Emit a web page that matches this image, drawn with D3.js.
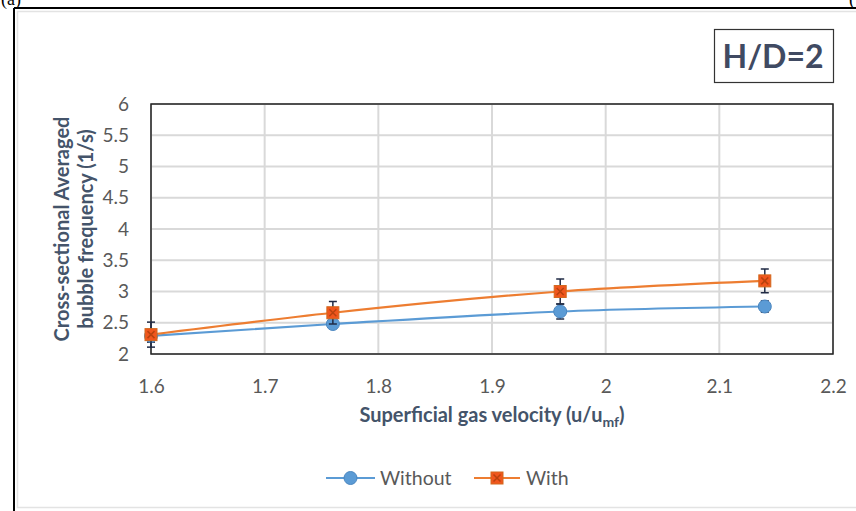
<!DOCTYPE html>
<html>
<head>
<meta charset="utf-8">
<script src="https://cdn.jsdelivr.net/npm/d3@7"></script>
<style>
  html, body { margin: 0; padding: 0; background: #fff; }
  svg { display: block; }
</style>
</head>
<body>
<svg id="chart" width="856" height="511"></svg>
<script>
// Superficial gas velocity (u/u_mf)
const velocity = [1.6, 1.76, 1.96, 2.14];
// Bubble frequency (1/s) without and with the insert
const withoutValues = [2.29, 2.48, 2.68, 2.76];
const withValues = [2.31, 2.66, 3.0, 3.17];
// Error bar half-widths
const withoutErrors = [0.1, 0.07, 0.12, 0.09];
const withErrors = [0.2, 0.18, 0.2, 0.19];
const xTicks = [1.6, 1.7, 1.8, 1.9, 2.0, 2.1, 2.2];
const yTicks = [2, 2.5, 3, 3.5, 4, 4.5, 5, 5.5, 6];
const seriesNames = ["Without", "With"];

const svg = d3.select("#chart");
const font = "Lato, 'Open Sans', sans-serif";
const tickColor = "#595959";
const titleColor = "#44546A";

const plot = { left: 151, right: 833, top: 104, bottom: 354 };
const x = d3.scaleLinear().domain([1.6, 2.2]).range([plot.left, plot.right]);
const y = d3.scaleLinear().domain([2, 6]).range([plot.bottom, plot.top]);

// Figure frame
svg.append("rect").attr("x", 17.5).attr("y", 11.5).attr("width", 860).attr("height", 496)
  .attr("fill", "none").attr("stroke", "#e3e3e3").attr("stroke-width", 1.5);
svg.append("line").attr("x1", 14).attr("x2", 856).attr("y1", 8).attr("y2", 8)
  .attr("stroke", "#000").attr("stroke-width", 2);
svg.append("line").attr("x1", 14).attr("x2", 14).attr("y1", 8).attr("y2", 511)
  .attr("stroke", "#000").attr("stroke-width", 2);
svg.append("text").attr("x", 1).attr("y", 5).text("(a)")
  .attr("font-family", "'Liberation Serif', serif").attr("font-size", 18).attr("fill", "#000");
svg.append("text").attr("x", 849).attr("y", 5).text("(")
  .attr("font-family", "'Liberation Serif', serif").attr("font-size", 18).attr("fill", "#000");

// Gridlines
const grid = svg.append("g");
grid.selectAll(".hg").data(yTicks).join("line")
  .attr("x1", plot.left).attr("x2", plot.right)
  .attr("y1", d => y(d)).attr("y2", d => y(d))
  .attr("stroke", "#d9d9d9").attr("stroke-width", 2);
grid.selectAll(".vg").data(xTicks).join("line")
  .attr("x1", d => x(d)).attr("x2", d => x(d))
  .attr("y1", plot.top).attr("y2", plot.bottom)
  .attr("stroke", "#d9d9d9").attr("stroke-width", 2);

// Plot border
svg.append("rect").attr("x", plot.left).attr("y", plot.top)
  .attr("width", plot.right - plot.left).attr("height", plot.bottom - plot.top)
  .attr("fill", "none").attr("stroke", "#222").attr("stroke-width", 1.5);

// Axes (labels only)
const xAxis = svg.append("g").attr("transform", `translate(0,${plot.bottom + 22})`)
  .call(d3.axisBottom(x).tickValues(xTicks).tickFormat(d3.format("~g")).tickSize(0));
xAxis.select(".domain").remove();
xAxis.selectAll("text").attr("font-family", font).attr("font-size", 19).attr("fill", tickColor);

const yAxis = svg.append("g").attr("transform", `translate(${plot.left - 19},0)`)
  .call(d3.axisLeft(y).tickValues(yTicks).tickFormat(d3.format("~g")).tickSize(0));
yAxis.select(".domain").remove();
yAxis.selectAll("text").attr("font-family", font).attr("font-size", 19).attr("fill", tickColor);

// Axis titles
const xTitle = svg.append("text").attr("x", 492).attr("y", 422).attr("text-anchor", "middle")
  .attr("font-family", font).attr("font-weight", "bold").attr("font-size", 20).attr("fill", titleColor);
xTitle.append("tspan").text("Superficial gas velocity (u/u");
xTitle.append("tspan").text("mf").attr("font-size", 14).attr("dy", 5);
xTitle.append("tspan").text(")").attr("dy", -5);

const yTitle = svg.append("text").attr("transform", "translate(69,229) rotate(-90)")
  .attr("text-anchor", "middle").attr("font-family", font).attr("font-weight", "bold")
  .attr("font-size", 20).attr("fill", titleColor);
yTitle.append("tspan").attr("x", 0).attr("dy", 0).text("Cross-sectional Averaged");
yTitle.append("tspan").attr("x", 0).attr("dy", 24).text("bubble frequency (1/s)");

// Series
const series = [
  { name: seriesNames[0], values: withoutValues, errors: withoutErrors, color: "#5B9BD5", marker: "circle" },
  { name: seriesNames[1], values: withValues, errors: withErrors, color: "#ED7D31", marker: "square" }
];

const line = d3.line().curve(d3.curveMonotoneX).x(d => x(d.x)).y(d => y(d.y));

function drawMarker(g, s, cx, cy) {
  if (s.marker === "circle") {
    g.append("circle").attr("cx", cx).attr("cy", cy).attr("r", 6.5)
      .attr("fill", "#5B9BD5").attr("stroke", "#4a86c0").attr("stroke-width", 1);
  } else {
    g.append("rect").attr("x", cx - 6).attr("y", cy - 6).attr("width", 12).attr("height", 12)
      .attr("fill", "#F0561D").attr("stroke", "#d2691e").attr("stroke-width", 1);
    g.append("path").attr("d", `M${cx - 3.5},${cy - 3.5}L${cx + 3.5},${cy + 3.5}M${cx + 3.5},${cy - 3.5}L${cx - 3.5},${cy + 3.5}`)
      .attr("stroke", "#b8420f").attr("stroke-width", 1.5);
  }
}

series.forEach(s => {
  const pts = velocity.map((v, i) => ({ x: v, y: s.values[i], e: s.errors[i] }));
  svg.append("path").datum(pts).attr("d", line)
    .attr("fill", "none").attr("stroke", s.color).attr("stroke-width", 2.2);
});

series.forEach(s => {
  const g = svg.append("g");
  velocity.forEach((v, i) => {
    const cx = x(v), val = s.values[i], e = s.errors[i];
    const y1 = y(val - e), y2 = y(val + e);
    g.append("line").attr("x1", cx).attr("x2", cx).attr("y1", y1).attr("y2", y2)
      .attr("stroke", "#1f2a44").attr("stroke-width", 1.5);
    [y1, y2].forEach(yy => g.append("line").attr("x1", cx - 4).attr("x2", cx + 4)
      .attr("y1", yy).attr("y2", yy).attr("stroke", "#1f2a44").attr("stroke-width", 1.5));
    drawMarker(g, s, cx, y(val));
  });
});

// Legend
const legendItems = [
  { s: series[0], x0: 326, x1: 375, tx: 380 },
  { s: series[1], x0: 474, x1: 520, tx: 526 }
];
legendItems.forEach(item => {
  const g = svg.append("g");
  const ly = 478;
  g.append("line").attr("x1", item.x0).attr("x2", item.x1).attr("y1", ly).attr("y2", ly)
    .attr("stroke", item.s.color).attr("stroke-width", 2.2);
  drawMarker(g, item.s, (item.x0 + item.x1) / 2, ly);
  g.append("text").attr("x", item.tx).attr("y", ly + 7).text(item.s.name)
    .attr("font-family", font).attr("font-size", 19.5).attr("fill", tickColor);
});

// H/D label box
svg.append("rect").attr("x", 714.5).attr("y", 29.5).attr("width", 119).attr("height", 53)
  .attr("fill", "#fff").attr("stroke", "#333").attr("stroke-width", 1.2);
svg.append("text").attr("x", 773).attr("y", 68).attr("text-anchor", "middle")
  .text("H/D=2").attr("font-family", font).attr("font-weight", "bold")
  .attr("font-size", 32).attr("fill", "#404a62");
</script>
</body>
</html>
